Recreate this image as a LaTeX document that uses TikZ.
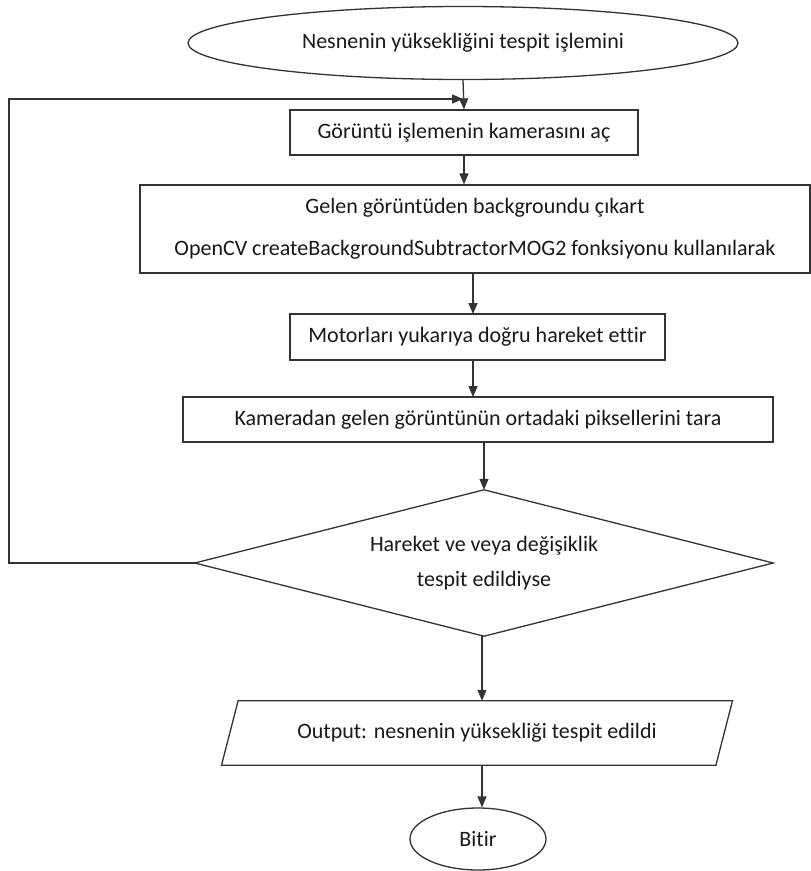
\documentclass[tikz,border=0pt]{standalone}
\usepackage{fontspec}
\setmainfont[Ligatures=NoCommon]{Carlito}
\usetikzlibrary{shapes.geometric,arrows.meta,calc}
\begin{document}
\begin{tikzpicture}[x=1pt,y=-1pt,
  every node/.style={font=\fontsize{22}{22}\selectfont, text=black!90, inner sep=0pt},
  ln/.style={line width=1.3pt, draw=black!80},
  arr/.style={ln, -{Triangle[length=11pt,width=9pt]}},
  boxn/.style={draw=black!80, line width=1.3pt, rectangle},
  ell/.style={draw=black!80, line width=1.3pt, ellipse},
]
\useasboundingbox[fill=white] (0,0) rectangle (811,871);
\node[ell, minimum width=550pt, minimum height=73pt] (start) at (463,43) {Nesnenin yüksekliğini tespit işlemini};
\node[boxn, minimum width=348pt, minimum height=45pt] (b1) at (464,132.5) {Görüntü işlemenin kamerasını aç};
\node[boxn, minimum width=670pt, minimum height=88pt, align=center] (b2) at (475,229) {Gelen görüntüden backgroundu çıkart\\[20pt]OpenCV createBackgroundSubtractorMOG2 fonksiyonu kullanılarak};
\node[boxn, minimum width=375pt, minimum height=46pt] (b3) at (477.5,337) {Motorları yukarıya doğru hareket ettir};
\node[boxn, minimum width=590pt, minimum height=45pt] (b4) at (478,419.5) {Kameradan gelen görüntünün ortadaki piksellerini tara};
\node[minimum width=578pt, minimum height=146pt, align=center] (dia) at (484,563) {Hareket ve veya değişiklik\\[13pt]tespit edildiyse};
\draw[ln] (dia.north) -- (dia.east) -- (dia.south) -- (dia.west) -- cycle;
\node[minimum width=494pt, minimum height=64pt] (out) at (477,733) {Output: nesnenin yüksekliği tespit edildi};
\draw[ln] ($(out.north west)+(8.3,0)$) -- ($(out.north east)+(8.3,0)$) -- ($(out.south east)+(-8.3,0)$) -- ($(out.south west)+(-8.3,0)$) -- cycle;
\node[ell, minimum width=136pt, minimum height=62pt] (end) at (478,839) {Bitir};
\coordinate (jn) at (463,99);
\coordinate (lp1) at (9,563);
\coordinate (lp2) at (9,99);
\coordinate (s4) at (484,442);
\coordinate (sd) at (482,636);
\coordinate (so) at (482,765);
\draw[arr] (start.south) -- (b1.north);
\draw[arr] (dia.west) -- (lp1) -- (lp2) -- (jn);
\draw[arr] (b1.south) -- (b1.south|-b2.north);
\draw[arr] (473,273) -- (473,314);
\draw[arr] (473,360) -- (473,397);
\draw[arr] (s4) -- (s4|-dia.north);
\draw[arr] (sd) -- (sd|-out.north);
\draw[arr] (so) -- (so|-end.north);
\end{tikzpicture}
\end{document}
